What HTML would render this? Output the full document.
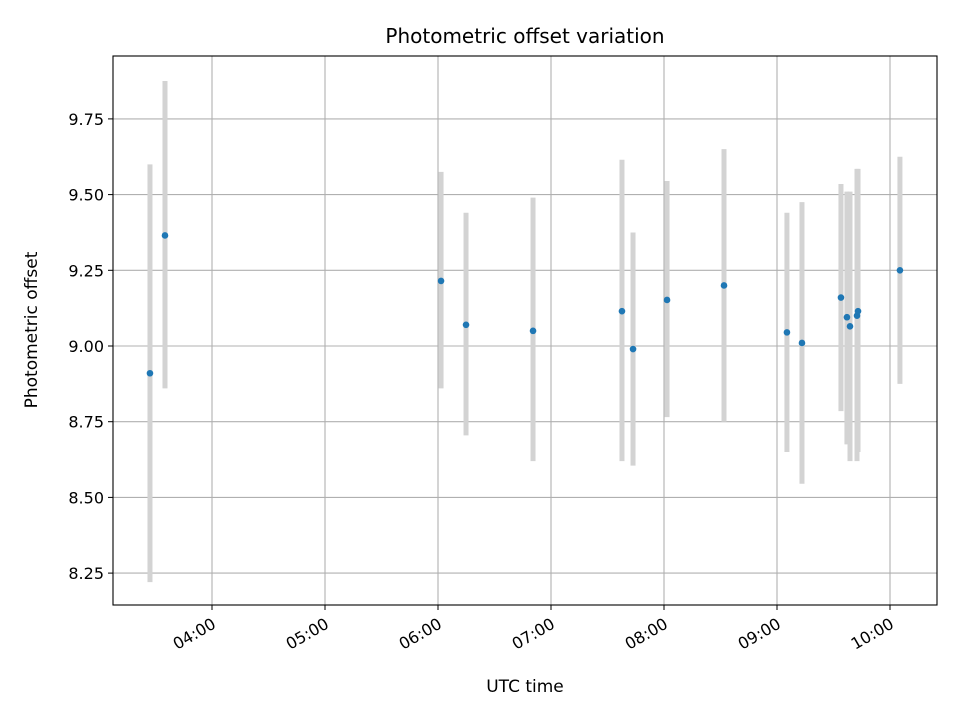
<!DOCTYPE html>
<html><head><meta charset="utf-8"><style>
body{margin:0;background:#fff;}
svg text{font-family:"DejaVu Sans","Liberation Sans",sans-serif;fill:#000;}
</style></head><body>
<svg id="chart" width="960" height="720" xmlns="http://www.w3.org/2000/svg">
<rect width="960" height="720" fill="#fff"/>
<g id="grid"></g><g id="marks"></g><g id="axes"></g>
<text x="525" y="43" font-size="20" text-anchor="middle">Photometric offset variation</text>
<text x="525" y="692" font-size="17" text-anchor="middle">UTC time</text>
<text transform="translate(37,330) rotate(-90)" font-size="17" text-anchor="middle">Photometric offset</text>
</svg>
<script>
const times=[3.451,3.584,6.027,6.248,6.841,7.628,7.726,8.027,8.531,9.088,9.221,9.566,9.619,9.646,9.708,9.717,10.088];
const values=[8.91,9.365,9.215,9.07,9.05,9.115,8.99,9.152,9.20,9.045,9.01,9.16,9.095,9.065,9.10,9.115,9.25];
const errLow=[8.22,8.86,8.86,8.705,8.62,8.62,8.605,8.765,8.75,8.65,8.545,8.785,8.675,8.62,8.62,8.65,8.875];
const errHigh=[9.60,9.875,9.575,9.44,9.49,9.615,9.375,9.545,9.65,9.44,9.475,9.535,9.51,9.51,9.585,9.585,9.625];
const yTicks=[8.25,8.5,8.75,9.0,9.25,9.5,9.75];
const xTicks=[4,5,6,7,8,9,10];
const xTickLabels=["04:00","05:00","06:00","07:00","08:00","09:00","10:00"];
const L=113,R=937,T=56,B=605;
const xs=h=>212+(h-4)*113;
const ys=v=>346-(v-9)*302.8;
const NS="http://www.w3.org/2000/svg";
function mk(tag,attrs,parent){const e=document.createElementNS(NS,tag);for(const k in attrs)e.setAttribute(k,attrs[k]);parent.appendChild(e);return e;}
const grid=document.getElementById('grid'),marks=document.getElementById('marks'),axes=document.getElementById('axes');
yTicks.forEach(v=>{const y=ys(v);
 const g=mk('line',{x1:L,x2:R,y1:y,y2:y,stroke:'#b0b0b0','stroke-width':1.1},grid);
 
 mk('line',{x1:L-5,x2:L,y1:y,y2:y,stroke:'#000'},axes);
 const t=mk('text',{x:L-9,y:y+6,'font-size':16,'text-anchor':'end'},axes);t.textContent=v.toFixed(2);
 
});
xTicks.forEach((h,i)=>{const x=xs(h);
 const g=mk('line',{x1:x,x2:x,y1:T,y2:B,stroke:'#b0b0b0','stroke-width':1.1},grid);
 
 mk('line',{x1:x,x2:x,y1:B,y2:B+5,stroke:'#000'},axes);
 const t=mk('text',{transform:`translate(${x+5},${B+22}) rotate(-30)`,'font-size':16,'text-anchor':'end'},axes);t.textContent=xTickLabels[i];
 
});
times.forEach((h,i)=>{const x=xs(h);
 const e=mk('line',{x1:x,x2:x,y1:ys(errHigh[i]),y2:ys(errLow[i]),stroke:'#d3d3d3','stroke-width':5},marks);
 
});
times.forEach((h,i)=>{
 const c=mk('circle',{cx:xs(h),cy:ys(values[i]),r:3.3,fill:'#1f77b4'},marks);
 
});
const f=mk('rect',{x:L,y:T,width:R-L,height:B-T,fill:'none',stroke:'#000','stroke-width':1.1},axes);

</script>
</body></html>
